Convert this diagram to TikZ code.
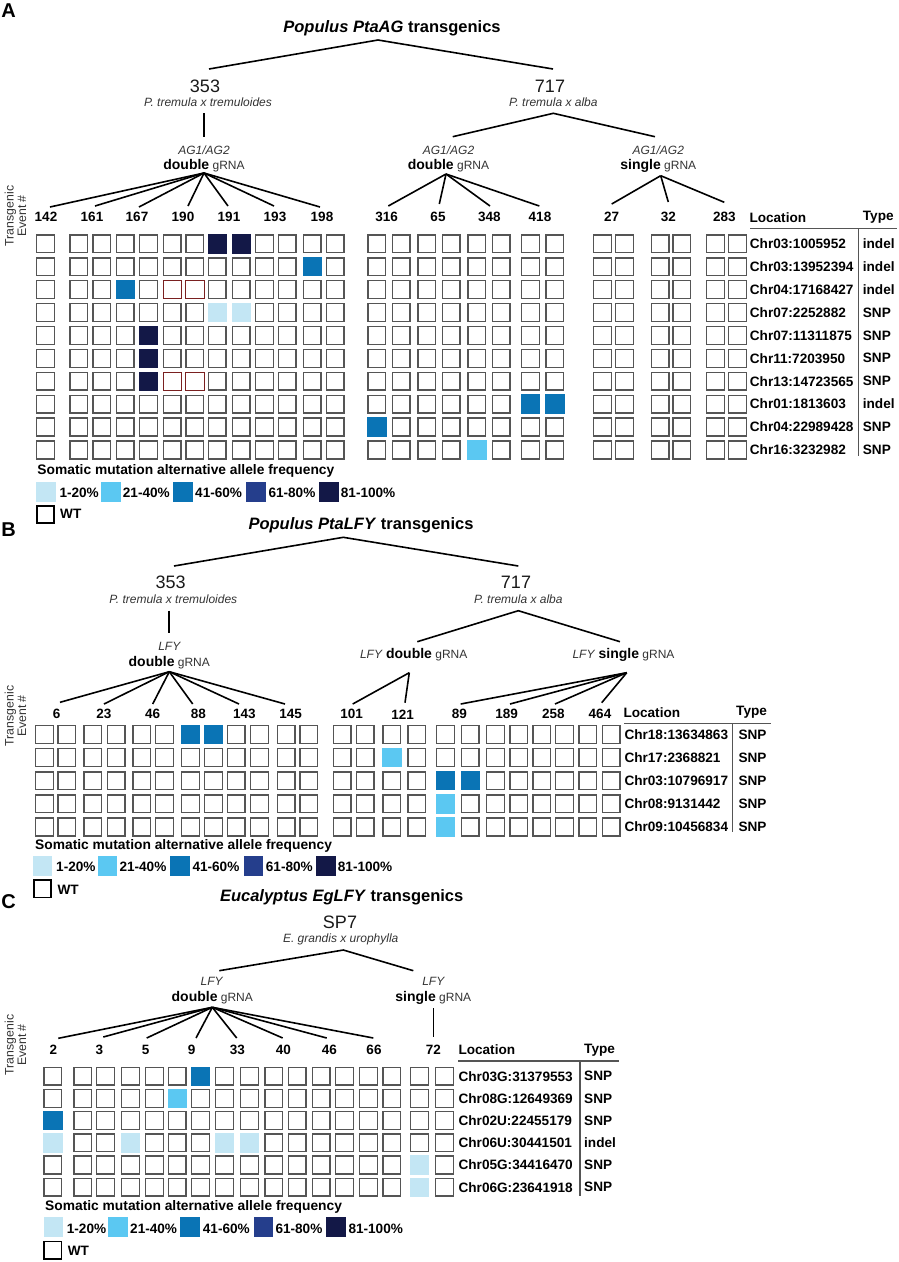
\documentclass[tikz,border=0pt]{standalone}
\usepackage{fontspec}
\setmainfont{Liberation Sans}
\definecolor{c1}{HTML}{C3E6F4}
\definecolor{c2}{HTML}{5BC8F2}
\definecolor{c3}{HTML}{0A74B5}
\definecolor{c4}{HTML}{253E8C}
\definecolor{c5}{HTML}{131847}
\definecolor{cellgray}{HTML}{555555}
\definecolor{darkred}{HTML}{7A2020}
\definecolor{txtgray}{HTML}{333333}
\newcommand\fsz[1]{\fontsize{#1}{#1}\selectfont}
\begin{document}
\begin{tikzpicture}[x=1pt,y=-1pt,
  gcell/.style={draw=cellgray, line width=1.4pt, minimum size=17.8pt, inner sep=0pt},
  mutcell/.style={fill=#1, draw=none, minimum size=19.4pt, inner sep=0pt},
  redcell/.style={draw=darkred, line width=0.8pt, fill=white, minimum size=18.4pt, inner sep=0pt},
  swatch/.style={fill=#1, draw=none, minimum size=19.6pt, inner sep=0pt},
  wtbox/.style={draw=black, line width=1.8pt, minimum size=17.2pt, inner sep=0pt},
  tree/.style={line width=1.6pt, black},
  tline/.style={line width=1.3pt, cellgray},
  evlbl/.style={font=\fsz{13.5}\bfseries, inner sep=0pt},
  tbl/.style={font=\fsz{13.6}\bfseries, inner sep=0pt, anchor=west},
  ttl/.style={font=\fsz{16.5}\bfseries, inner sep=0pt},
  bignum/.style={font=\fsz{18}, inner sep=0pt, text=black!90},
  spc/.style={font=\fsz{12}\itshape, inner sep=0pt, text=txtgray},
  gene/.style={font=\fsz{12}\itshape, inner sep=0pt, text=txtgray},
  grna/.style={font=\fsz{12}, inner sep=0pt, text=txtgray},
  legtitle/.style={font=\fsz{13.8}\bfseries, inner sep=0pt, anchor=west},
  leglbl/.style={font=\fsz{13.6}\bfseries, inner sep=0pt, anchor=west},
  panel/.style={font=\fsz{20}\bfseries, inner sep=0pt},
  side/.style={font=\fsz{12.3}, text=txtgray, rotate=90, align=center, inner sep=0pt}
]
\useasboundingbox (0,0) rectangle (899,1262);

% ================= PANEL A =================
\node[panel] (A-lab) at (8.5,11) {A};
\node[ttl] (A-title) at (392,28) {\textit{Populus PtaAG} transgenics};
\node[bignum] (A-353) at (205,86) {353};
\node[spc] (A-sp353) at (208,102) {P. tremula x tremuloides};
\node[bignum] (A-717) at (550,86) {717};
\node[spc] (A-sp717) at (553.3,102) {P. tremula x alba};
\node[gene] (A-g1) at (204,150) {AG1/AG2};
\node[grna] (A-d1) at (204,166) {{\fsz{14}\bfseries\color{black}double} gRNA};
\node[gene] (A-g2) at (448.5,150) {AG1/AG2};
\node[grna] (A-d2) at (448.5,166) {{\fsz{14}\bfseries\color{black}double} gRNA};
\node[gene] (A-g3) at (658.3,150) {AG1/AG2};
\node[grna] (A-d3) at (658.3,166) {{\fsz{14}\bfseries\color{black}single} gRNA};
\node[side] (A-side) at (15.5,216) {Transgenic\\Event \#};

\coordinate (A-t0) at (378,40);
\coordinate (A-t353) at (209,69);
\coordinate (A-t717) at (553,69);
\coordinate (A-v1) at (204,113);
\coordinate (A-v2) at (204,137);
\coordinate (A-g0) at (553.3,113.3);
\coordinate (A-gl) at (452.7,136.7);
\coordinate (A-gr) at (655,136.7);
\coordinate (A-f1) at (204,173);
\coordinate (A-f2) at (446,174);
\coordinate (A-f3) at (660.7,175.7);
\foreach \n/\x/\y in {1/50/207,2/95/206,3/139/207,4/188/206,5/228/206,6/274/206,7/320/207,
  8/388.3/206,9/439.3/204,10/490/206,11/539.3/206,12/611.7/204,13/668.3/202,14/724.3/202.3}
  \coordinate (A-e\n) at (\x,\y);
\draw[tree] (A-t353) -- (A-t0) -- (A-t717);
\draw[tree] (A-v1) -- (A-v2);
\draw[tree] (A-gl) -- (A-g0) -- (A-gr);
\foreach \n in {1,...,7} \draw[tree] (A-f1) -- (A-e\n);
\foreach \n in {8,...,11} \draw[tree] (A-f2) -- (A-e\n);
\foreach \n in {12,13,14} \draw[tree] (A-f3) -- (A-e\n);
\foreach \t/\x in {142/46,161/92,167/137,190/183,191/229,193/275,198/322,316/386.7,65/438,348/489.3,418/540,27/611.7,32/668.3,283/724.3}
  \node[evlbl] (A-ev\t) at (\x,217) {\t};

\foreach \x [count=\c] in {36,69.3,92.3,115.7,139,162.7,185.3,207.7,231.7,255,277.7,302.7,325.7,367.3,391.7,417.3,441.7,467.3,491.7,521,545.3,593,615,650.7,672.3,706,728}
  \foreach \r in {1,...,10}
    \node[gcell] (A-\r-\c) at ({\x+9.5},{243.8+22.9*(\r-1)}) {};
\foreach \r/\c in {3/6,3/7,7/6,7/7}
  \node[redcell] (A-red\r\c) at (A-\r-\c) {};
\foreach \r/\c/\col in {1/8/c5,1/9/c5,2/12/c3,3/4/c3,4/8/c1,4/9/c1,5/5/c5,6/5/c5,7/5/c5,8/20/c3,8/21/c3,9/14/c3,10/18/c2}
  \node[mutcell=\col] (A-m\r-\c) at (A-\r-\c) {};

% table A
\coordinate (A-typ) at (862.7,217.3);
\node[tbl] (A-loc) at (749.3,217.3) {Location};
\node[tbl] (A-type) at (A-typ) {Type};
\coordinate (A-h1) at (750,228.7);
\coordinate (A-h2) at (896.7,228.7);
\coordinate (A-s1) at (858.3,228.7);
\coordinate (A-s2) at (858.3,456);
\draw[tline] (A-h1) -- (A-h2);
\draw[tline] (A-s1) -- (A-s2);
\foreach \loc/\ty [count=\r] in {Chr03:1005952/indel,Chr03:13952394/indel,Chr04:17168427/indel,Chr07:2252882/SNP,Chr07:11311875/SNP,Chr11:7203950/SNP,Chr13:14723565/SNP,Chr01:1813603/indel,Chr04:22989428/SNP,Chr16:3232982/SNP}{
  \node[tbl] (A-l\r) at ([xshift=2.6pt]A-\r-27.east) {\loc};
  \node[tbl] (A-y\r) at (A-typ |- A-\r-27) {\ty};
}

% legend A
\node[legtitle] (A-lt) at (37.3,471) {Somatic mutation alternative allele frequency};
\foreach \sx/\lx/\col/\txt [count=\k] in {36/59.3/c1/1-20\%,101/122.7/c2/21-40\%,172.7/195/c3/41-60\%,246/268.3/c4/61-80\%,319/340.7/c5/81-100\%}{
  \node[swatch=\col] (A-sw\k) at ({\sx+10},491.7) {};
  \node[leglbl] (A-sl\k) at (\lx,492.5) {\txt};
}
\node[wtbox] (A-wt) at (45.5,514.5) {};
\node[leglbl] (A-wtl) at (60,514.3) {WT};

% ================= PANEL B =================
\node[panel] (B-lab) at (8.5,530) {B};
\node[ttl] (B-title) at (361,525) {\textit{Populus PtaLFY} transgenics};
\node[bignum] (B-353) at (170.7,582.3) {353};
\node[spc] (B-sp353) at (173.3,599.3) {P. tremula x tremuloides};
\node[bignum] (B-717) at (516,582.3) {717};
\node[spc] (B-sp717) at (518.3,599.3) {P. tremula x alba};
\node[gene] (B-g1) at (169.3,646) {LFY};
\node[grna] (B-d1) at (169.3,662.7) {{\fsz{14}\bfseries\color{black}double} gRNA};
\node[grna] (B-d2) at (413.7,655) {\textit{LFY} {\fsz{14}\bfseries\color{black}double} gRNA};
\node[grna] (B-d3) at (623.5,655) {\textit{LFY} {\fsz{14}\bfseries\color{black}single} gRNA};
\node[side] (B-side) at (15.5,716) {Transgenic\\Event \#};

\coordinate (B-t0) at (343.3,537.3);
\coordinate (B-t353) at (174,566);
\coordinate (B-t717) at (518.3,566);
\coordinate (B-v1) at (169,610.7);
\coordinate (B-v2) at (169,633.3);
\coordinate (B-g0) at (518.3,610.7);
\coordinate (B-gl) at (417.3,641.7);
\coordinate (B-gr) at (620,641.7);
\coordinate (B-f1) at (169.3,671.7);
\coordinate (B-f2) at (409.3,672.7);
\coordinate (B-f3) at (626.7,672.7);
\foreach \n/\x/\y in {1/60/702.3,2/104/704,3/152.7/704,4/192.7/704,5/239/704,6/285/704,
  7/352.7/704,8/405/702.7,9/460.7/704,10/510/704,11/555/704,12/601.7/702.7}
  \coordinate (B-e\n) at (\x,\y);
\draw[tree] (B-t353) -- (B-t0) -- (B-t717);
\draw[tree] (B-v1) -- (B-v2);
\draw[tree] (B-gl) -- (B-g0) -- (B-gr);
\foreach \n in {1,...,6} \draw[tree] (B-f1) -- (B-e\n);
\foreach \n in {7,8} \draw[tree] (B-f2) -- (B-e\n);
\foreach \n in {9,...,12} \draw[tree] (B-f3) -- (B-e\n);
\foreach \t/\x in {6/56.7,23/104,46/152.7,88/198.3,143/244.3,145/290.7,101/351.7,121/402.7,89/459.3,189/506.7,258/553.3,464/600}
  \node[evlbl] (B-ev\t) at (\x,714.3) {\t};

\foreach \x [count=\c] in {35,57.3,83.3,106.7,132.3,155,181,204,226.7,250,276.7,299.3,332.7,355.7,382.3,407.3,436,460.7,486,509.3,532.3,555,578.3,601.7}
  \foreach \r in {1,...,5}
    \node[gcell] (B-\r-\c) at ({\x+9.5},{734.5+23.1*(\r-1)}) {};
\foreach \r/\c/\col in {1/7/c3,1/8/c3,2/15/c2,3/17/c3,3/18/c3,4/17/c2,5/17/c2}
  \node[mutcell=\col] (B-m\r-\c) at (B-\r-\c) {};

% table B
\coordinate (B-typ) at (738.3,712.7);
\node[tbl] (B-loc) at (623.3,712.7) {Location};
\node[tbl] (B-type) at (736,712.7) {Type};
\coordinate (B-h1) at (624,723.3);
\coordinate (B-h2) at (770.7,723.3);
\coordinate (B-s1) at (732.7,723.3);
\coordinate (B-s2) at (732.7,831.7);
\draw[tline] (B-h1) -- (B-h2);
\draw[tline] (B-s1) -- (B-s2);
\foreach \loc/\ty [count=\r] in {Chr18:13634863/SNP,Chr17:2368821/SNP,Chr03:10796917/SNP,Chr08:9131442/SNP,Chr09:10456834/SNP}{
  \node[tbl] (B-l\r) at ([xshift=3.5pt]B-\r-24.east) {\loc};
  \node[tbl] (B-y\r) at (B-typ |- B-\r-24) {\ty};
}

% legend B
\node[legtitle] (B-lt) at (35,845.7) {Somatic mutation alternative allele frequency};
\foreach \sx/\lx/\col/\txt [count=\k] in {32.3/56/c1/1-20\%,97.3/119.3/c2/21-40\%,170/192.3/c3/41-60\%,243.3/265.7/c4/61-80\%,316/337.7/c5/81-100\%}{
  \node[swatch=\col] (B-sw\k) at ({\sx+10},866.2) {};
  \node[leglbl] (B-sl\k) at (\lx,867) {\txt};
}
\node[wtbox] (B-wt) at (42.2,888.8) {};
\node[leglbl] (B-wtl) at (57.3,890) {WT};

% ================= PANEL C =================
\node[panel] (C-lab) at (8.5,901.7) {C};
\node[ttl] (C-title) at (341.7,897.7) {\textit{Eucalyptus EgLFY} transgenics};
\node[bignum] (C-sp7) at (340,922.7) {SP7};
\node[spc] (C-spc) at (340.7,939.3) {E. grandis x urophylla};
\node[gene] (C-g1) at (211.7,981.7) {LFY};
\node[grna] (C-d1) at (212.3,997.7) {{\fsz{14}\bfseries\color{black}double} gRNA};
\node[gene] (C-g2) at (433.3,981.7) {LFY};
\node[grna] (C-d2) at (433.3,997.7) {{\fsz{14}\bfseries\color{black}single} gRNA};
\node[side] (C-side) at (15.5,1045) {Transgenic\\Event \#};

\coordinate (C-t0) at (343.3,950);
\coordinate (C-tl) at (219.3,970.7);
\coordinate (C-tr) at (413.3,970.7);
\coordinate (C-v1) at (433.3,1008.3);
\coordinate (C-v2) at (433.3,1037.3);
\coordinate (C-f1) at (212.3,1007.3);
\foreach \n/\x/\y in {1/58.3/1038.3,2/103.3/1037,3/146.7/1038,4/196/1038,5/236.7/1038,6/282.7/1038,7/326.7/1038,8/373.3/1038}
  \coordinate (C-e\n) at (\x,\y);
\draw[tree] (C-tl) -- (C-t0) -- (C-tr);
\draw[tree] (C-v1) -- (C-v2);
\foreach \n in {1,...,8} \draw[tree] (C-f1) -- (C-e\n);
\foreach \t/\x in {2/53.3,3/99.3,5/145.7,9/191.7,33/237.3,40/283.3,46/329.3,66/374,72/433.3}
  \node[evlbl] (C-ev\t) at (\x,1050) {\t};

\foreach \x [count=\c] in {43.3,73.3,96,121,145,167.7,191,215,240,264.3,287.7,311.7,335,359,382.3,410,435}
  \foreach \r in {1,...,6}
    \node[gcell] (C-\r-\c) at ({\x+9.5},{1076.2+22.2*(\r-1)}) {};
\foreach \r/\c/\col in {1/7/c3,2/6/c2,3/1/c3,4/1/c1,4/4/c1,4/8/c1,4/9/c1,5/16/c1,6/16/c1}
  \node[mutcell=\col] (C-m\r-\c) at (C-\r-\c) {};

% table C
\coordinate (C-typ) at (584,1050);
\node[tbl] (C-loc) at (458.3,1050) {Location};
\node[tbl] (C-type) at (C-typ) {Type};
\coordinate (C-h1) at (458.3,1061);
\coordinate (C-h2) at (619,1061);
\coordinate (C-s1) at (580,1061);
\coordinate (C-s2) at (580,1195.7);
\draw[tline] (C-h1) -- (C-h2);
\draw[tline] (C-s1) -- (C-s2);
\foreach \loc/\ty [count=\r] in {Chr03G:31379553/SNP,Chr08G:12649369/SNP,Chr02U:22455179/SNP,Chr06U:30441501/indel,Chr05G:34416470/SNP,Chr06G:23641918/SNP}{
  \node[tbl] (C-l\r) at ([xshift=4.3pt]C-\r-17.east) {\loc};
  \node[tbl] (C-y\r) at (C-typ |- C-\r-17) {\ty};
}

% legend C
\node[legtitle] (C-lt) at (45,1206.7) {Somatic mutation alternative allele frequency};
\foreach \sx/\lx/\col/\txt [count=\k] in {43.3/66.7/c1/1-20\%,107.7/130/c2/21-40\%,180/202.7/c3/41-60\%,253.3/275.3/c4/61-80\%,326/348.3/c5/81-100\%}{
  \node[swatch=\col] (C-sw\k) at ({\sx+10},1227.2) {};
  \node[leglbl] (C-sl\k) at (\lx,1228.5) {\txt};
}
\node[wtbox] (C-wt) at (52.8,1250) {};
\node[leglbl] (C-wtl) at (67.7,1250.7) {WT};
\end{tikzpicture}
\end{document}
